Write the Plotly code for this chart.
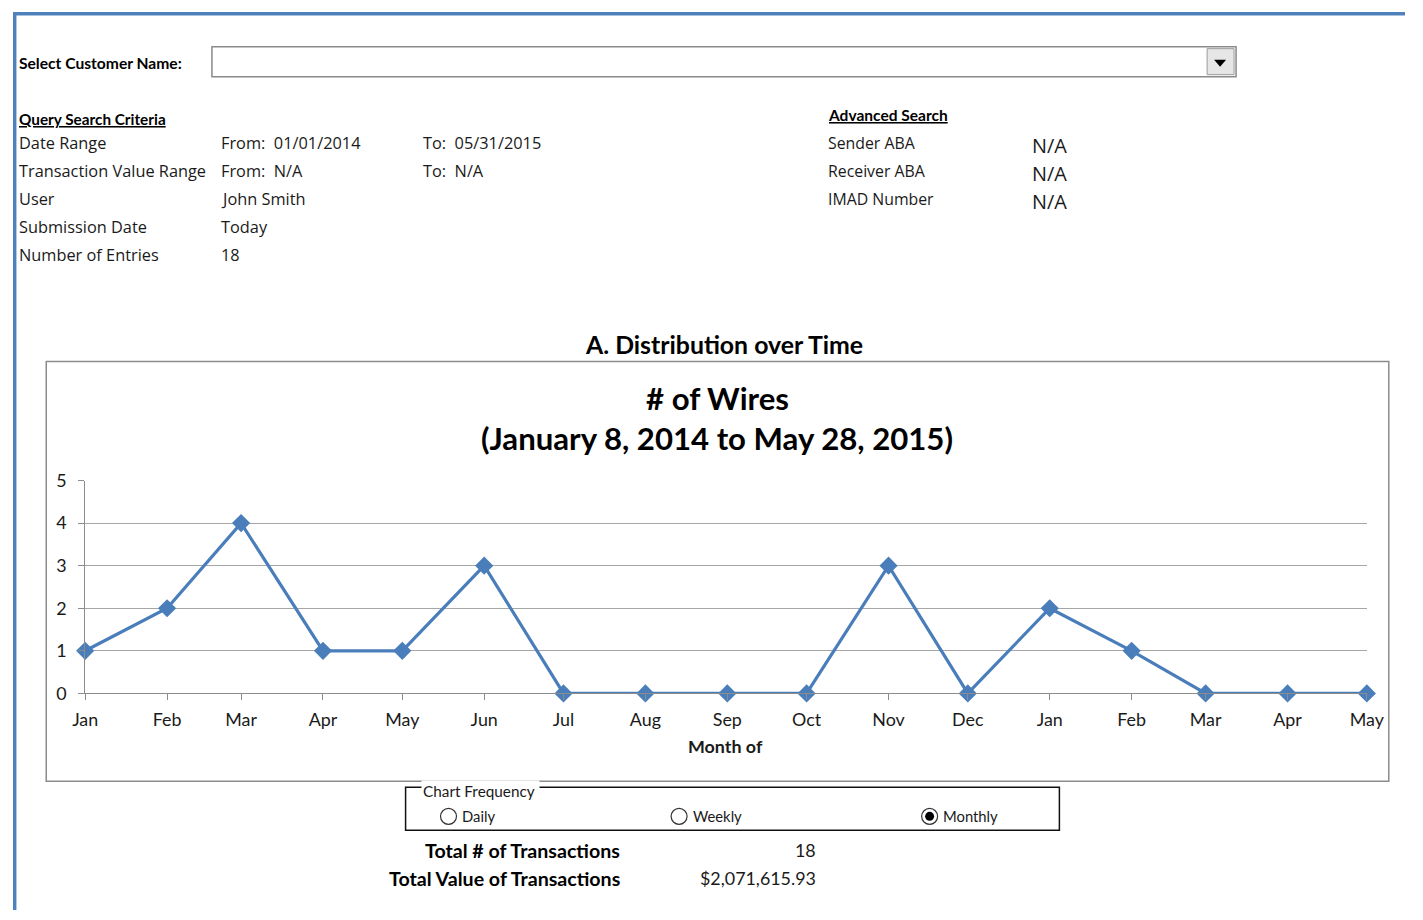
import plotly.graph_objects as go

# ---------------- data ----------------
months = ["2014-01-01", "2014-02-01", "2014-03-01", "2014-04-01", "2014-05-01",
          "2014-06-01", "2014-07-01", "2014-08-01", "2014-09-01", "2014-10-01",
          "2014-11-01", "2014-12-01", "2015-01-01", "2015-02-01", "2015-03-01",
          "2015-04-01", "2015-05-01"]
month_labels = ["Jan", "Feb", "Mar", "Apr", "May", "Jun", "Jul", "Aug", "Sep",
                "Oct", "Nov", "Dec", "Jan", "Feb", "Mar", "Apr", "May"]
wires = [1, 2, 4, 1, 1, 3, 0, 0, 0, 0, 3, 0, 2, 1, 0, 0, 0]
y_ticks = [0, 1, 2, 3, 4, 5]

criteria_labels = ["Date Range", "Transaction Value Range", "User",
                   "Submission Date", "Number of Entries"]
criteria_col1 = ["From:  01/01/2014", "From:  N/A", "John Smith", "Today", "18"]
criteria_col2 = ["To:  05/31/2015", "To:  N/A", "", "", ""]
adv_labels = ["Sender ABA", "Receiver ABA", "IMAD Number"]
adv_values = ["N/A", "N/A", "N/A"]
freq_options = ["Daily", "Weekly", "Monthly"]
selected_freq = "Monthly"
total_labels = ["Total # of Transactions", "Total Value of Transactions"]
total_values = ["18", "$2,071,615.93"]

# ---------------- styling ----------------
W, H = 1423, 920
# the photographed page is shown slightly reduced; layout positions are
# laid out in picture pixels and converted back to page pixels here
SX, OX = 0.980, 11.7
SY, OY = 0.9765, 11.3
F = 1 / 0.979
PAD = 2.5  # annotation inner padding (border + borderpad)
BLUE = "#4a7ebb"
FRAME = "#4f81bd"
GRID = "#a6a6a6"
TXT = "#1a1a1a"
CHART_FONT = "Lato"
SHEET_FONT = "Open Sans"


def px(x):
    return ((x - OX) / SX) / W


def py(y):
    return 1 - ((y - OY) / SY) / H


def fs(s):
    return s * F


fig = go.Figure()
fig.add_trace(go.Scatter(
    x=months, y=wires, mode="lines+markers",
    line=dict(color=BLUE, width=3.2),
    marker=dict(symbol="diamond", size=14, color=BLUE),
    cliponaxis=False, showlegend=False, hoverinfo="x+y"))

shapes = []
ann = []


def rect(x0, y0, x1, y1, line_color=None, width=1, fill=None, layer="above"):
    shapes.append(dict(type="rect", xref="paper", yref="paper",
                       x0=px(x0), x1=px(x1), y0=py(y0), y1=py(y1),
                       line=dict(color=line_color or "rgba(0,0,0,0)", width=width if line_color else 0),
                       fillcolor=fill or "rgba(0,0,0,0)", layer=layer))


def text(x, y, s, size=14, family=SHEET_FONT, color=TXT, xanchor="left", bold=False, bg=None):
    if bold:
        s = "<b>" + s + "</b>"
    if xanchor == "left":
        x -= PAD
    elif xanchor == "right":
        x += PAD
    a = dict(xref="paper", yref="paper", x=px(x), y=py(y), text=s, showarrow=False,
             xanchor=xanchor, yanchor="middle",
             font=dict(size=fs(size), family=family, color=color))
    if bg:
        a["bgcolor"] = bg
        a["borderpad"] = 1
    ann.append(a)


# blue frame (top and left edges of the sheet)
shapes.append(dict(type="rect", xref="paper", yref="paper", x0=0, x1=1, y0=1 - 3.5 / H, y1=1,
                   line=dict(width=0), fillcolor=FRAME))
shapes.append(dict(type="rect", xref="paper", yref="paper", x0=0, x1=3.5 / W, y0=0, y1=1,
                   line=dict(width=0), fillcolor=FRAME))

# customer selector
text(18, 62, "Select Customer Name:", size=15.3, family=CHART_FONT, bold=True, color="#000")
rect(211, 46, 1237, 76, line_color="#8a8a8a", width=1.5, fill="white")
rect(1208, 48, 1235, 74, line_color="#9a9a9a", width=1, fill="#e6e6e6")
shapes.append(dict(type="path", xref="paper", yref="paper",
                   path=f"M {px(1215)} {py(59)} L {px(1227)} {py(59)} L {px(1221)} {py(66)} Z",
                   fillcolor="black", line=dict(color="black", width=0)))

# query criteria
text(18, 118, "<u>Query Search Criteria</u>", size=15, family=CHART_FONT, bold=True, color="#000")
for i, lab in enumerate(criteria_labels):
    yy = 142 + 28 * i
    text(18, yy, lab, size=16)
    text(221, yy, criteria_col1[i], size=16)
    if criteria_col2[i]:
        text(423, yy, criteria_col2[i], size=16)

# advanced search
text(829, 114, "<u>Advanced Search</u>", size=15.2, family=CHART_FONT, bold=True, color="#000")
for i, lab in enumerate(adv_labels):
    text(829, 142 + 28 * i, lab, size=15.5)
    text(1033, 145 + 28 * i, adv_values[i], size=19.5)

# chart titles
text(724, 344, "A. Distribution over Time", size=24.3, family=CHART_FONT, bold=True, color="#000", xanchor="center")
rect(45, 361, 1390, 781, line_color="#8c8c8c", width=1.5)
text(717, 397, "# of Wires", size=30.5, family=CHART_FONT, bold=True, color="#000", xanchor="center")
text(717, 437, "(January 8, 2014 to May 28, 2015)", size=30.5, family=CHART_FONT, bold=True, color="#000", xanchor="center")
text(726, 746, "Month of", size=17.5, family=CHART_FONT, bold=True, color=TXT, xanchor="center")

# chart frequency group box
rect(405, 787, 1060, 830, line_color="#111", width=1.5)
text(423, 791, "Chart Frequency ", size=15, family=CHART_FONT, color=TXT, bg="white")
radio_x = [448, 679, 930]
for xx, opt in zip(radio_x, freq_options):
    shapes.append(dict(type="circle", xref="paper", yref="paper",
                       x0=px(xx - 8), x1=px(xx + 8), y0=py(816 - 8), y1=py(816 + 8),
                       line=dict(color="#333", width=1.2), fillcolor="white"))
    if opt == selected_freq:
        shapes.append(dict(type="circle", xref="paper", yref="paper",
                           x0=px(xx - 4.5), x1=px(xx + 4.5), y0=py(816 - 4.5), y1=py(816 + 4.5),
                           line=dict(color="black", width=0), fillcolor="black"))
    text(xx + 14, 816, opt, size=14.5, family=CHART_FONT, color=TXT)

# totals
for i, (lab, val) in enumerate(zip(total_labels, total_values)):
    yy = 850 + 28 * i
    text(619, yy, lab, size=19.2, family=CHART_FONT, bold=True, color="#000", xanchor="right")
    text(816, yy, val, size=17.5, family=CHART_FONT, color=TXT, xanchor="right")

fig.update_layout(
    width=W, height=H, autosize=False,
    margin=dict(l=0, r=0, t=0, b=0, pad=0),
    paper_bgcolor="white", plot_bgcolor="white",
    showlegend=False,
    shapes=shapes, annotations=ann,
    xaxis=dict(
        type="date", domain=[px(84), px(1368)],
        range=[months[0], months[-1]],
        tickvals=months, ticktext=month_labels,
        ticks="outside", ticklen=6, tickcolor="#8c8c8c",
        showline=True, linecolor="#8c8c8c", linewidth=1,
        showgrid=False, zeroline=False,
        tickfont=dict(family=CHART_FONT, size=fs(17.5), color=TXT),
        ticklabelstandoff=4, fixedrange=True),
    yaxis=dict(
        domain=[py(693), py(480)], range=[0, 5],
        tickvals=y_ticks,
        ticks="outside", ticklen=6, tickcolor="#8c8c8c",
        showline=True, linecolor="#8c8c8c", linewidth=1,
        showgrid=True, gridcolor=GRID, gridwidth=1,
        zeroline=False,
        tickfont=dict(family=CHART_FONT, size=fs(17.5), color=TXT),
        ticklabelstandoff=8, fixedrange=True),
)

fig.write_html("out.html", post_script="document.body.style.margin='0px';",
               config={"displayModeBar": False})
